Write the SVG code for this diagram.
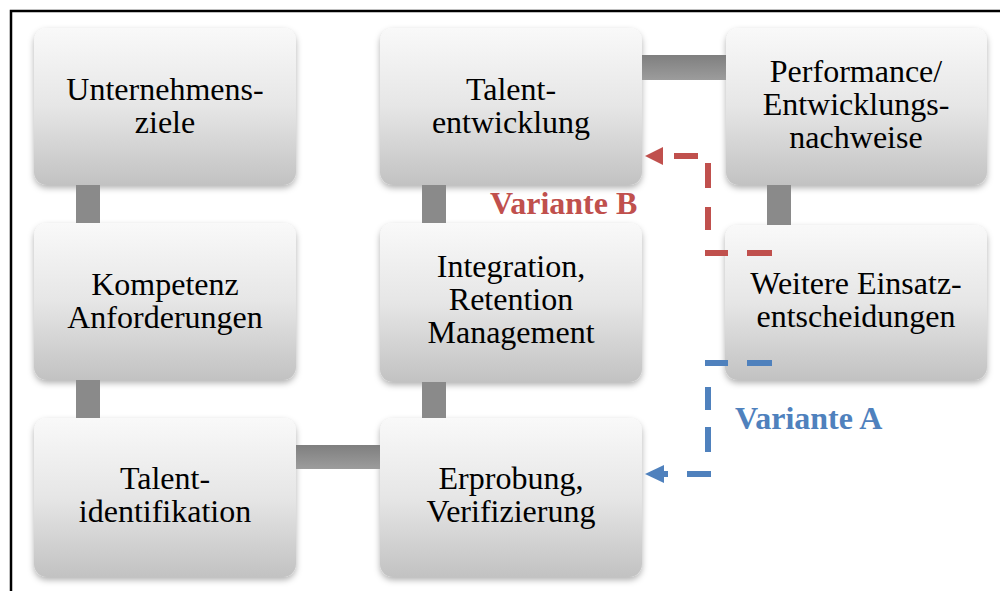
<svg xmlns="http://www.w3.org/2000/svg" width="1000" height="591" viewBox="0 0 1000 591">
  <style>
    .box { fill: url(#boxGrad); filter: url(#shadow); }
    .lbl { font-family: "Liberation Serif", "Times New Roman", serif; font-size: 32px; fill: #000; text-anchor: middle; }
    .var { font-family: "Liberation Serif", "Times New Roman", serif; font-size: 32px; font-weight: bold; }
    .bar { fill: #8a8a8a; }
    .hbar { fill: url(#hbarGrad); }
    .red { stroke: #c0504d; stroke-width: 6; fill: none; }
    .blue { stroke: #4f81bd; stroke-width: 6; fill: none; }
  </style>
  <defs>
    <linearGradient id="boxGrad" x1="0" y1="0" x2="0" y2="1">
      <stop offset="0" stop-color="#f9f9f9"/>
      <stop offset="0.5" stop-color="#e6e6e6"/>
      <stop offset="1" stop-color="#c2c2c2"/>
    </linearGradient>
    <linearGradient id="hbarGrad" x1="0" y1="0" x2="0" y2="1">
      <stop offset="0" stop-color="#7f7f7f"/>
      <stop offset="1" stop-color="#9c9c9c"/>
    </linearGradient>
    <filter id="shadow" x="-10%" y="-10%" width="120%" height="125%">
      <feDropShadow dx="0" dy="3" stdDeviation="3" flood-color="#000" flood-opacity="0.3"/>
    </filter>
  </defs>

  <rect width="1000" height="591" fill="#fff"/>
  <!-- frame -->
  <path d="M11,591 V11 H1000" fill="none" stroke="#000" stroke-width="2.5"/>

  <g id="n1">
    <rect class="box" x="34" y="28" width="262" height="157" rx="13"/>
    <text class="lbl" x="165" y="100">Unternehmens-</text>
    <text class="lbl" x="165" y="133">ziele</text>
  </g>
  <g id="n2">
    <rect class="box" x="34" y="223" width="262" height="157" rx="13"/>
    <text class="lbl" x="165" y="295">Kompetenz</text>
    <text class="lbl" x="165" y="328">Anforderungen</text>
  </g>
  <g id="n3">
    <rect class="box" x="34" y="418" width="262" height="159" rx="13"/>
    <text class="lbl" x="165" y="489">Talent-</text>
    <text class="lbl" x="165" y="522">identifikation</text>
  </g>
  <g id="n4">
    <rect class="box" x="380" y="418" width="262" height="159" rx="13"/>
    <text class="lbl" x="511" y="489">Erprobung,</text>
    <text class="lbl" x="511" y="522">Verifizierung</text>
  </g>
  <g id="n5">
    <rect class="box" x="380" y="223" width="262" height="159" rx="13"/>
    <text class="lbl" x="511" y="277">Integration,</text>
    <text class="lbl" x="511" y="310">Retention</text>
    <text class="lbl" x="511" y="343">Management</text>
  </g>
  <g id="n6">
    <rect class="box" x="380" y="28" width="262" height="157" rx="13"/>
    <text class="lbl" x="511" y="100">Talent-</text>
    <text class="lbl" x="511" y="133">entwicklung</text>
  </g>
  <g id="n7">
    <rect class="box" x="726" y="28" width="261" height="157" rx="13"/>
    <text class="lbl" x="856" y="82">Performance/</text>
    <text class="lbl" x="856" y="115">Entwicklungs-</text>
    <text class="lbl" x="856" y="148">nachweise</text>
  </g>
  <g id="n8">
    <rect class="box" x="725" y="225" width="262" height="155" rx="13"/>
    <text class="lbl" x="856" y="294">Weitere Einsatz-</text>
    <text class="lbl" x="856" y="327">entscheidungen</text>
  </g>

  <!-- connectors -->
  <g id="connectors">
    <rect class="bar" x="76" y="185" width="24" height="38"/>
    <rect class="bar" x="76" y="380" width="24" height="38"/>
    <rect class="bar" x="422" y="185" width="24" height="38"/>
    <rect class="bar" x="422" y="382" width="24" height="36"/>
    <rect class="bar" x="767" y="185" width="24" height="40"/>
    <rect class="hbar" x="296" y="445" width="84" height="24"/>
    <rect class="hbar" x="642" y="55" width="84" height="25"/>
    <g id="varianteB">
      <path class="red" d="M772,253H747M728,253H705M708,253V250M708,230V207M708,188V163M698,156H674"/>
      <polygon points="645,156 663,147 663,165" fill="#c0504d"/>
    </g>
    <g id="varianteA">
      <path class="blue" d="M772,363H747M728,363H705M708,363V366M708,387V410M708,427V452M711,474H687M668,474H663"/>
      <polygon points="645,474 664,465 664,483" fill="#4f81bd"/>
    </g>
  </g>

  <text class="var" x="490" y="214" fill="#c0504d">Variante B</text>
  <text class="var" x="735" y="429" fill="#4f81bd">Variante A</text>
</svg>
